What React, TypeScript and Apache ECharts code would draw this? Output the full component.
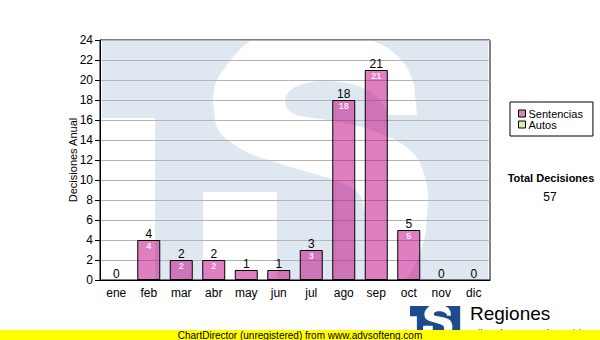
import React, { useEffect, useRef } from "react";
import * as echarts from "echarts";

const months = ["ene", "feb", "mar", "abr", "may", "jun", "jul", "ago", "sep", "oct", "nov", "dic"];
const sentencias = [0, 4, 2, 2, 1, 1, 3, 18, 21, 5, 0, 0];
const autos: number[] = [];
const yTicks = { min: 0, max: 24, interval: 2 };
const seriesNames = ["Sentencias", "Autos"];
const totalLabel = "Total Decisiones";
const yAxisTitle = "Decisiones Anual";

const FONT = 'Arial, "Liberation Sans", sans-serif';

const S_PATH =
  "M150,0 L266,0 C290,5 308,25 312,45 L315,75 L286,75 C283,62 272,50 253,45 C235,40 215,40 200,44 C188,48 182,55 183,62 C184,70 190,74 198,76 L226,80 C250,84 265,88 280,94 C300,102 315,112 320,128 C325,142 327,152 326,162 L324,190 C322,205 315,225 303,240 L263,240 L263,175 C262,165 260,158 256,152 C245,145 238,141 226,138 L176,123 C155,117 142,112 133,105 C120,97 114,90 113,80 L111,62 C111,45 116,35 123,28 C132,15 140,6 150,0 Z M101,152 L175,152 L175,240 L101,240 Z";

let registered = false;
function registerLogo() {
  if (registered) return;
  echarts.graphic.registerShape("tsS", echarts.graphic.extendPath(S_PATH, {}) as any);
  registered = true;
}

function logoGroup(x: number, y: number, s: number, blue: string, z: number) {
  return {
    type: "group",
    x,
    y,
    scaleX: s,
    scaleY: s,
    silent: true,
    children: [
      {
        type: "polygon",
        z,
        shape: { points: [[0, 0], [386, 0], [386, 240], [53, 240], [53, 78], [0, 78]] },
        style: { fill: blue },
      },
      {
        type: "tsS",
        z: z + 1,
        style: { fill: "#ffffff" },
      },
    ],
  };
}

export default function App() {
  const ref = useRef<HTMLDivElement>(null);
  useEffect(() => {
    document.body.style.margin = "0";
    registerLogo();
    const chart = echarts.init(ref.current!, undefined, { renderer: "svg" });
    const total = sentencias.reduce((a, b) => a + b, 0);
    const barData = sentencias.map((v) =>
      v === 0 ? { value: v, itemStyle: { borderWidth: 0 } } : { value: v }
    );
    chart.setOption({
      animation: false,
      backgroundColor: "#ffffff",
      textStyle: { fontFamily: FONT },
      grid: {
        left: 100,
        right: 110,
        top: 40,
        bottom: 60,
        show: true,
        borderColor: "#000",
        borderWidth: 1,
        backgroundColor: "transparent",
        z: 1,
      },
      legend: {
        data: seriesNames,
        orient: "vertical",
        left: 510,
        top: 102,
        width: 82,
        borderColor: "#000",
        borderWidth: 1,
        padding: [6, 10, 6, 8],
        itemWidth: 7,
        itemHeight: 7,
        itemGap: 0,
        icon: "rect",
        selectedMode: false,
        itemStyle: { borderColor: "#000", borderWidth: 1 },
        textStyle: { fontSize: 11, color: "#000", lineHeight: 11, fontFamily: FONT, padding: [0, 0, 0, -2] },
      },
      xAxis: {
        type: "category",
        data: months,
        axisLine: { lineStyle: { color: "#000", width: 1 } },
        axisTick: { alignWithLabel: true, length: 5, lineStyle: { color: "#000" } },
        axisLabel: { color: "#000", fontSize: 12, margin: 7, fontFamily: FONT },
        z: 3,
      },
      yAxis: {
        type: "value",
        min: yTicks.min,
        max: yTicks.max,
        interval: yTicks.interval,
        name: yAxisTitle,
        nameLocation: "middle",
        nameGap: 22,
        nameMoveOverlap: false,
        nameRotate: 90,
        nameTextStyle: { fontSize: 11, color: "#000", fontFamily: FONT },
        axisLine: { show: true, lineStyle: { color: "#000", width: 1 } },
        axisTick: { show: true, length: 5, lineStyle: { color: "#000" } },
        axisLabel: { color: "#000", fontSize: 12, margin: 7, fontFamily: FONT },
        splitLine: { show: true, lineStyle: { color: "#b4b4b4", width: 1 } },
        z: 1,
      },
      series: [
        {
          name: seriesNames[0],
          type: "bar",
          stack: "s",
          data: barData,
          barWidth: 23,
          z: 4,
          itemStyle: { color: "rgba(192,0,128,0.5)", borderColor: "#000", borderWidth: 1 },
          label: {
            show: true,
            position: "top",
            distance: 0,
            offset: [0, 12],
            formatter: (p: any) =>
              p.value >= 2 ? `{a|${p.value}}\n{b|${p.value}}` : `{a|${p.value}}\n{b| }`,
            rich: {
              a: { fontSize: 12, color: "#000", lineHeight: 13, fontFamily: FONT },
              b: { fontSize: 9, fontWeight: "bold", color: "rgba(255,255,255,0.85)", lineHeight: 12, fontFamily: FONT },
            },
          },
        },
        {
          name: seriesNames[1],
          type: "bar",
          stack: "s",
          data: autos,
          barWidth: 23,
          itemStyle: { color: "#d8f0a8", borderColor: "#000", borderWidth: 1 },
        },
      ],
      graphic: {
        elements: [
          logoGroup(102, 40, 1, "#dfe8f1", -20),
          {
            type: "text",
            x: 551,
            y: 178,
            z: 10,
            style: {
              text: totalLabel,
              fontSize: 11,
              fontWeight: "bold",
              fontFamily: FONT,
              fill: "#000",
              align: "center",
              verticalAlign: "middle",
              textAlign: "center",
              textVerticalAlign: "middle",
            },
          },
          {
            type: "text",
            x: 550,
            y: 197,
            z: 10,
            style: {
              text: String(total),
              fontSize: 12,
              fontFamily: FONT,
              fill: "#000",
              align: "center",
              verticalAlign: "middle",
              textAlign: "center",
              textVerticalAlign: "middle",
            },
          },
          logoGroup(410, 306, 0.13, "#1c4c8c", 20),
          {
            type: "text",
            x: 470,
            y: 313.5,
            z: 30,
            style: {
              text: "Regiones",
              fontSize: 19,
              fontFamily: FONT,
              fill: "#000",
              align: "left",
              verticalAlign: "middle",
              textAlign: "left",
              textVerticalAlign: "middle",
            },
          },
          {
            type: "text",
            x: 470,
            y: 333,
            z: 30,
            style: {
              text: "Tribunal Supremo de Justicia",
              fontSize: 9,
              fontFamily: FONT,
              fill: "#000",
              align: "left",
              verticalAlign: "middle",
              textAlign: "left",
              textVerticalAlign: "middle",
            },
          },
          {
            type: "rect",
            x: 0,
            y: 330,
            z: 50,
            shape: { x: 0, y: 0, width: 600, height: 10 },
            style: { fill: "#ffff00" },
          },
          {
            type: "text",
            x: 300,
            y: 335,
            z: 51,
            style: {
              text: "ChartDirector (unregistered) from www.advsofteng.com",
              fontSize: 10,
              fontFamily: FONT,
              fill: "#000",
              align: "center",
              verticalAlign: "middle",
              textAlign: "center",
              textVerticalAlign: "middle",
            },
          },
        ],
      },
    });
    return () => chart.dispose();
  }, []);
  return <div ref={ref} style={{ width: 600, height: 340 }} />;
}
